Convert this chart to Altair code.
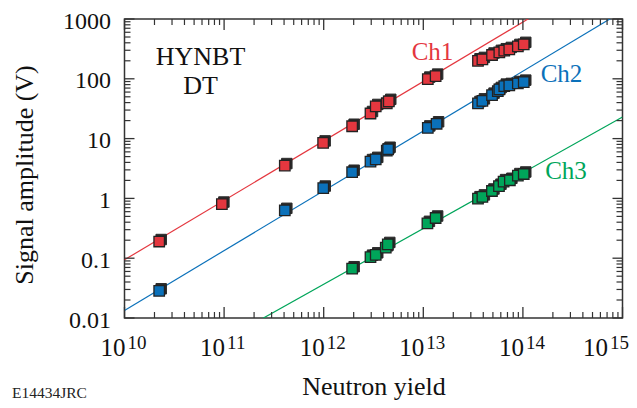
import altair as alt
import pandas as pd

# ---------------- data ----------------
ch1_x = [2.23e10, 9.5e10, 4.07e11, 9.87e11, 1.93e12, 2.95e12, 3.33e12, 4.3e12, 4.5e12,
         1.11e13, 1.33e13, 3.54e13, 3.92e13, 4.9e13, 5.8e13, 6.5e13, 7.3e13, 8.9e13, 1.02e14]
ch1_y = [0.19, 0.805, 3.54, 8.47, 16.1, 26.3, 34.5, 39, 42,
         99, 111, 200, 211, 250, 277, 295, 310, 348, 377]

ch2_x = [2.23e10, 4.07e11, 9.9e11, 1.93e12, 2.95e12, 3.33e12, 4.3e12, 4.43e12,
         1.11e13, 1.36e13, 3.54e13, 3.92e13, 4.9e13, 5.6e13, 5.8e13, 6.5e13, 7.3e13, 8.9e13, 1.02e14]
ch2_y = [0.0285, 0.632, 1.49, 2.74, 4.13, 4.5, 6.3, 6.64,
         15.1, 17.7, 38.7, 42.8, 53.3, 62, 66.4, 75.5, 77.5, 83.6, 88]

ch3_x = [1.93e12, 2.95e12, 3.33e12, 4.2e12, 4.4e12, 1.1e13, 1.33e13,
         3.54e13, 3.92e13, 4.89e13, 5.75e13, 6.4e13, 7.4e13, 8.9e13, 1.02e14]
ch3_y = [0.0667, 0.104, 0.114, 0.15, 0.17, 0.383, 0.47,
         0.99, 1.06, 1.33, 1.6, 1.91, 2.01, 2.41, 2.56]

# fitted lines (end points)
fit_x = [1e10, 1e15]
ch1_fit = [0.094, 8773]
ch2_fit = [0.0134, 1340]
ch3_fit = [0.0005, 23]

channels = ["Ch1", "Ch2", "Ch3"]
colors = ["#e4373f", "#0b71ba", "#00a55a"]

x_major = [1e10, 1e11, 1e12, 1e13, 1e14, 1e15]
x_exp = ["10", "11", "12", "13", "14", "15"]
y_major = [0.01, 0.1, 1, 10, 100, 1000]

# ---------------- tables ----------------
pts = pd.concat([
    pd.DataFrame({"x": ch1_x, "y": ch1_y, "ch": "Ch1"}),
    pd.DataFrame({"x": ch2_x, "y": ch2_y, "ch": "Ch2"}),
    pd.DataFrame({"x": ch3_x, "y": ch3_y, "ch": "Ch3"}),
])
fits = pd.concat([
    pd.DataFrame({"x": fit_x, "y": ch1_fit, "ch": "Ch1"}),
    pd.DataFrame({"x": fit_x, "y": ch2_fit, "ch": "Ch2"}),
    pd.DataFrame({"x": fit_x, "y": ch3_fit, "ch": "Ch3"}),
])

x_minor = [m * 10 ** e for e in range(10, 15) for m in range(2, 10)]
y_minor = [m * 10.0 ** e for e in range(-2, 3) for m in range(2, 10)]
xmaj_df = pd.DataFrame({"x": x_major, "base": "10", "exp": x_exp})
xmin_df = pd.DataFrame({"x": x_minor})
ymaj_df = pd.DataFrame({"y": y_major})
ymin_df = pd.DataFrame({"y": y_minor})

W, H = 498, 299
FONT = "Liberation Serif"

xs = alt.Scale(type="log", domain=[1e10, 1e15])
ys = alt.Scale(type="log", domain=[0.01, 1000])
color = alt.Color("ch:N", scale=alt.Scale(domain=channels, range=colors), legend=None)

x_axis = alt.Axis(labels=False, ticks=False, domain=False, grid=False,
                  title="Neutron yield", titleFont=FONT, titleFontSize=26,
                  titleFontWeight="normal", titleColor="#111", titleY=76,
                  titleBaseline="alphabetic")
y_axis = alt.Axis(values=y_major, ticks=False, domain=False, grid=False,
                  labelExpr="datum.value < 1 ? format(datum.value, '.2~f') : format(datum.value, 'd')",
                  labelFont=FONT, labelFontSize=24, labelColor="#111", labelPadding=14,
                  labelOffset=2,
                  title="Signal amplitude (V)", titleFont=FONT, titleFontSize=26,
                  titleFontWeight="normal", titleColor="#111", titleAngle=-90,
                  titleX=-92.5, titleY=155.5, titleBaseline="alphabetic", titleAlign="center")

lines = alt.Chart(fits).mark_line(clip=True, strokeWidth=1.2).encode(
    x=alt.X("x:Q", scale=xs, axis=x_axis),
    y=alt.Y("y:Q", scale=ys, axis=y_axis),
    color=color, detail="ch:N")

shadow = alt.Chart(pts).mark_square(size=110, opacity=1, fill="#2a2a2a", stroke="#2a2a2a",
                                    strokeWidth=1, xOffset=2, yOffset=-2).encode(
    x=alt.X("x:Q", scale=xs), y=alt.Y("y:Q", scale=ys))
squares = alt.Chart(pts).mark_square(size=110, opacity=1, stroke="#222", strokeWidth=1.3).encode(
    x=alt.X("x:Q", scale=xs), y=alt.Y("y:Q", scale=ys),
    fill=alt.Fill("ch:N", scale=alt.Scale(domain=channels, range=colors), legend=None))

tick_col = "#333"
# x ticks bottom & top
xmaj_b = alt.Chart(xmaj_df).mark_rule(color=tick_col, strokeWidth=1.3).encode(
    x=alt.X("x:Q", scale=xs), y=alt.value(H), y2=alt.value(H - 11))
xmaj_t = alt.Chart(xmaj_df).mark_rule(color=tick_col, strokeWidth=1.3).encode(
    x=alt.X("x:Q", scale=xs), y=alt.value(0), y2=alt.value(11))
xmin_b = alt.Chart(xmin_df).mark_rule(color=tick_col, strokeWidth=1.2).encode(
    x=alt.X("x:Q", scale=xs), y=alt.value(H), y2=alt.value(H - 6))
xmin_t = alt.Chart(xmin_df).mark_rule(color=tick_col, strokeWidth=1.2).encode(
    x=alt.X("x:Q", scale=xs), y=alt.value(0), y2=alt.value(6))
# y ticks left & right
ymaj_l = alt.Chart(ymaj_df).mark_rule(color=tick_col, strokeWidth=1.3).encode(
    y=alt.Y("y:Q", scale=ys), x=alt.value(0), x2=alt.value(10))
ymaj_r = alt.Chart(ymaj_df).mark_rule(color=tick_col, strokeWidth=1.3).encode(
    y=alt.Y("y:Q", scale=ys), x=alt.value(W), x2=alt.value(W - 10))
ymin_l = alt.Chart(ymin_df).mark_rule(color=tick_col, strokeWidth=1.2).encode(
    y=alt.Y("y:Q", scale=ys), x=alt.value(0), x2=alt.value(6))
ymin_r = alt.Chart(ymin_df).mark_rule(color=tick_col, strokeWidth=1.2).encode(
    y=alt.Y("y:Q", scale=ys), x=alt.value(W), x2=alt.value(W - 6))

# x tick labels 10^n
base_lbl = alt.Chart(xmaj_df).transform_filter("datum.x < 5e14").mark_text(
    align="right", baseline="alphabetic", dx=1, font=FONT, fontSize=25, color="#111").encode(
    x=alt.X("x:Q", scale=xs), y=alt.value(H + 37.5), text="base:N")
exp_lbl = alt.Chart(xmaj_df).transform_filter("datum.x < 5e14").mark_text(
    align="left", baseline="alphabetic", dx=3, font=FONT, fontSize=19, color="#111").encode(
    x=alt.X("x:Q", scale=xs), y=alt.value(H + 31), text="exp:N")
base_last = alt.Chart(xmaj_df).transform_filter("datum.x > 5e14").mark_text(
    align="right", baseline="alphabetic", dx=-14.5, font=FONT, fontSize=25, color="#111").encode(
    x=alt.X("x:Q", scale=xs), y=alt.value(H + 37.5), text="base:N")
exp_last = alt.Chart(xmaj_df).transform_filter("datum.x > 5e14").mark_text(
    align="left", baseline="alphabetic", dx=-12.5, font=FONT, fontSize=19, color="#111").encode(
    x=alt.X("x:Q", scale=xs), y=alt.value(H + 31), text="exp:N")

# annotations
def label(txt, px, py, col, size=25, align="center"):
    return alt.Chart(pd.DataFrame({"t": [txt]})).mark_text(
        align=align, baseline="alphabetic", font=FONT, fontSize=size, color=col).encode(
        x=alt.value(px), y=alt.value(py), text="t:N")

ann = [
    label("Ch1", 308, 41, colors[0]),
    label("Ch2", 437, 63, colors[1]),
    label("Ch3", 441.5, 160, colors[2]),
    label("HYNBT", 76, 46, "#111", 26),
    label("DT", 76, 75, "#111", 26),
    label("E14434JRC", -112.5, 379, "#222", 15.5, "left"),
]

chart = alt.layer(
    lines, xmin_b, xmin_t, xmaj_b, xmaj_t, ymin_l, ymin_r, ymaj_l, ymaj_r,
    shadow, squares, base_lbl, exp_lbl, base_last, exp_last, *ann
).properties(
    width=W, height=H,
    autosize=alt.AutoSizeParams(type="none"),
    padding={"left": 116.5, "top": 11, "right": 6.5, "bottom": 82},
    background="white",
).configure_view(stroke="#333", strokeWidth=1.5)

chart.save("out.html", embed_options={"renderer": "svg", "actions": False})
